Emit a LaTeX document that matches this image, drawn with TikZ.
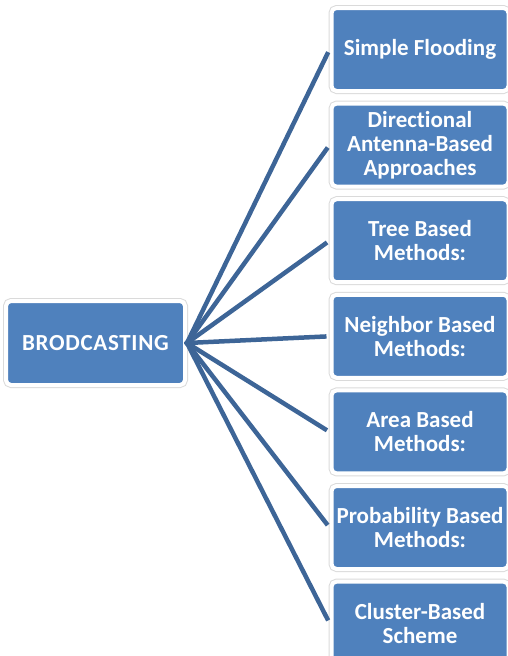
\documentclass[tikz,border=0pt]{standalone}
\usepackage{fontspec}
\setmainfont[Ligatures=NoCommon]{Carlito}
\definecolor{boxblue}{HTML}{4F81BD}
\definecolor{linkblue}{HTML}{3D6597}
\definecolor{rimgray}{HTML}{DADADA}
\tikzset{
  x=1pt, y=-1pt,
  frame/.style={preaction={draw=rimgray, line width=6pt}, draw=white, line width=4pt,
    fill=boxblue, rounded corners=5pt, inner sep=0pt, align=center,
    text=white, font=\bfseries\fontsize{23}{24}\selectfont},
  rootbox/.style={frame, minimum width=179pt, minimum height=84pt},
  leafbox/.style={frame, minimum width=177pt, minimum height=83pt},
  link/.style={draw=linkblue, line width=4.5pt, shorten <=-2pt, shorten >=3pt}
}
\begin{document}
\begin{tikzpicture}
\useasboundingbox (0,0) rectangle (507,656);
\node[rootbox] (root) at (95.5,343) {\addfontfeature{LetterSpace=3}BRODCASTING};
\node[leafbox] (b1) at (420,49.5) {Simple Flooding};
\node[leafbox] (b2) at (420,145.1) {Directional\\Antenna-Based\\Approaches};
\node[leafbox] (b3) at (420,240.7) {Tree Based\\Methods:};
\node[leafbox] (b4) at (420,336.3) {Neighbor Based\\Methods:};
\node[leafbox] (b5) at (420,431.9) {Area Based\\Methods:};
\node[leafbox] (b6) at (420,527.5) {Probability Based\\Methods:};
\node[leafbox] (b7) at (420,623.1) {Cluster-Based\\Scheme};
\foreach \b in {b1,b2,b3,b4,b5,b6,b7}{
  \draw[link] (root.east) -- (\b.west);
}
\end{tikzpicture}
\end{document}
